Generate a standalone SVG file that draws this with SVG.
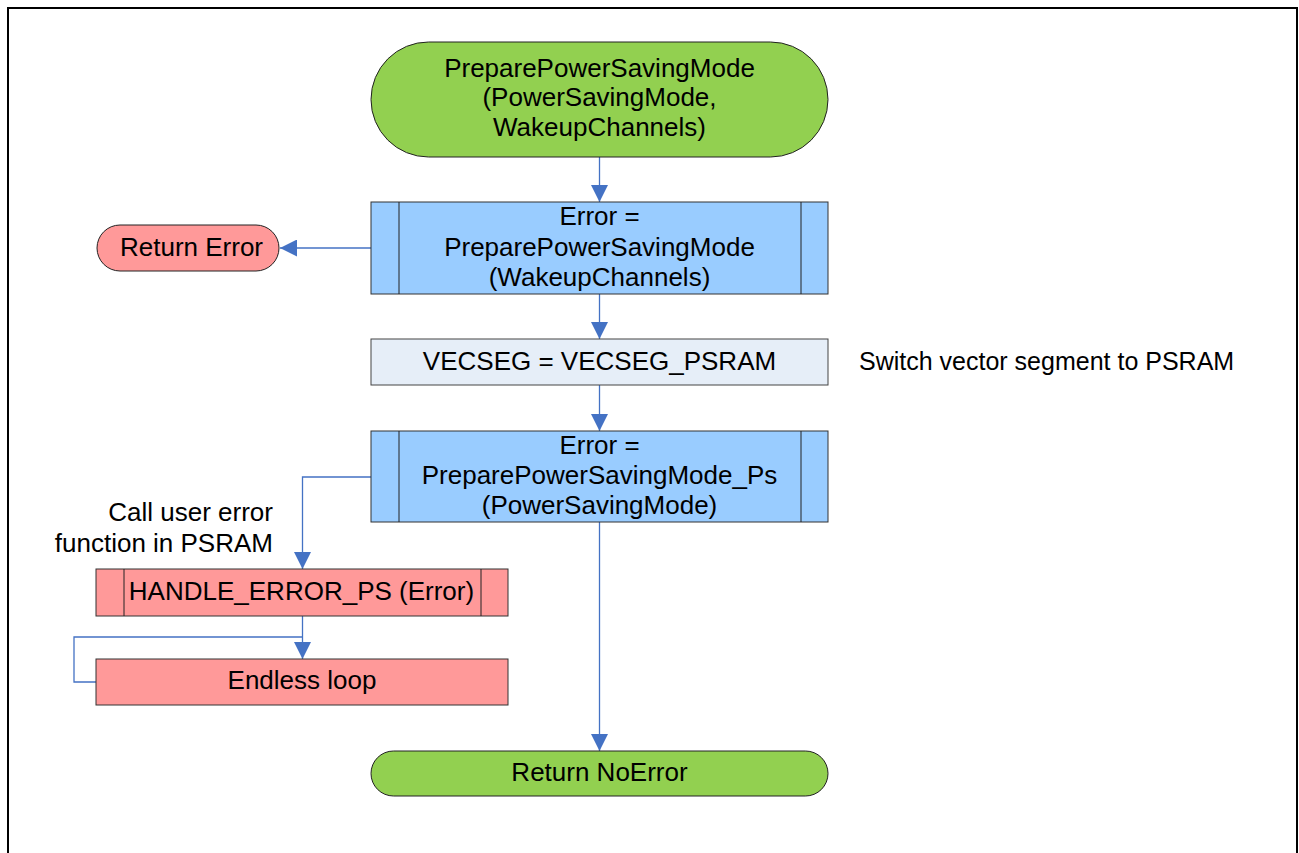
<svg xmlns="http://www.w3.org/2000/svg" width="1299" height="853" viewBox="0 0 1299 853">
<defs>
<marker id="ah" viewBox="0 0 10 10" refX="10" refY="5" markerWidth="17" markerHeight="17" markerUnits="userSpaceOnUse" orient="auto">
<path d="M0,0 L10,5 L0,10 Z" fill="#4472C4"/>
</marker>
<style>
text{font-family:"Liberation Sans",Arial,sans-serif;font-size:26px;fill:#000;text-anchor:middle}
.lbl{text-anchor:end}
.lft{text-anchor:start;font-size:25px}
.term-g{fill:#92D050;stroke:#222;stroke-width:1}
.term-r{fill:#FF9999;stroke:#222;stroke-width:1}
.proc-b{fill:#99CCFF;stroke:#333;stroke-width:1}
.proc-l{fill:#E6EEF8;stroke:#444;stroke-width:1}
.proc-r{fill:#FF9999;stroke:#333;stroke-width:1}
.bar{stroke:#222;stroke-width:1}
.conn{fill:none;stroke:#4472C4;stroke-width:1.3}
</style>
</defs>
<rect x="8" y="8" width="1289" height="900" fill="#fff" stroke="#000" stroke-width="2"/>

<g id="connectors">
<path class="conn" d="M599.5,157 V202" marker-end="url(#ah)"/>
<path class="conn" d="M371,248 H280" marker-end="url(#ah)"/>
<path class="conn" d="M599.5,294 V339" marker-end="url(#ah)"/>
<path class="conn" d="M599.5,385 V431" marker-end="url(#ah)"/>
<path class="conn" d="M599.5,522 V751" marker-end="url(#ah)"/>
<path class="conn" d="M371,477 H302.5 V569" marker-end="url(#ah)"/>
<path class="conn" d="M302.5,616 V659" marker-end="url(#ah)"/>
<path class="conn" d="M96,682 H74 V637 H302.5"/>
</g>

<g id="start">
<rect class="term-g" x="371" y="42" width="457" height="115" rx="57.5" ry="57.5"/>
<text x="599.5" y="77">PreparePowerSavingMode</text>
<text x="599.5" y="106">(PowerSavingMode,</text>
<text x="599.5" y="136">WakeupChannels)</text>
</g>

<g id="prepare1">
<rect class="proc-b" x="371" y="202" width="457" height="92"/>
<line class="bar" x1="399" y1="202" x2="399" y2="294"/>
<line class="bar" x1="801" y1="202" x2="801" y2="294"/>
<text x="599.5" y="225">Error =</text>
<text x="599.5" y="256">PreparePowerSavingMode</text>
<text x="599.5" y="286">(WakeupChannels)</text>
</g>

<g id="returnError">
<rect class="term-r" x="97" y="225" width="182" height="46" rx="23" ry="23"/>
<text x="191.5" y="256">Return Error</text>
</g>

<g id="vecseg">
<rect class="proc-l" x="371" y="339" width="457" height="46"/>
<text x="599.5" y="370">VECSEG = VECSEG_PSRAM</text>
</g>

<g id="vecsegNote">
<text class="lft" x="859" y="370">Switch vector segment to PSRAM</text>
</g>

<g id="prepare2">
<rect class="proc-b" x="371" y="431" width="457" height="91"/>
<line class="bar" x1="399" y1="431" x2="399" y2="522"/>
<line class="bar" x1="801" y1="431" x2="801" y2="522"/>
<text x="599.5" y="454">Error =</text>
<text x="599.5" y="484">PreparePowerSavingMode_Ps</text>
<text x="599.5" y="514">(PowerSavingMode)</text>
</g>

<g id="callNote">
<text class="lbl" x="273" y="521">Call user error</text>
<text class="lbl" x="273" y="552">function in PSRAM</text>
</g>

<g id="handleError">
<rect class="proc-r" x="96" y="569" width="412" height="47"/>
<line class="bar" x1="124" y1="569" x2="124" y2="616"/>
<line class="bar" x1="481" y1="569" x2="481" y2="616"/>
<text x="301.5" y="600">HANDLE_ERROR_PS (Error)</text>
</g>

<g id="endlessLoop">
<rect class="proc-r" x="96" y="659" width="412" height="46"/>
<text x="302" y="689">Endless loop</text>
</g>

<g id="returnNoError">
<rect class="term-g" x="371" y="751" width="457" height="45" rx="22.5" ry="22.5"/>
<text x="599.5" y="781">Return NoError</text>
</g>
</svg>
